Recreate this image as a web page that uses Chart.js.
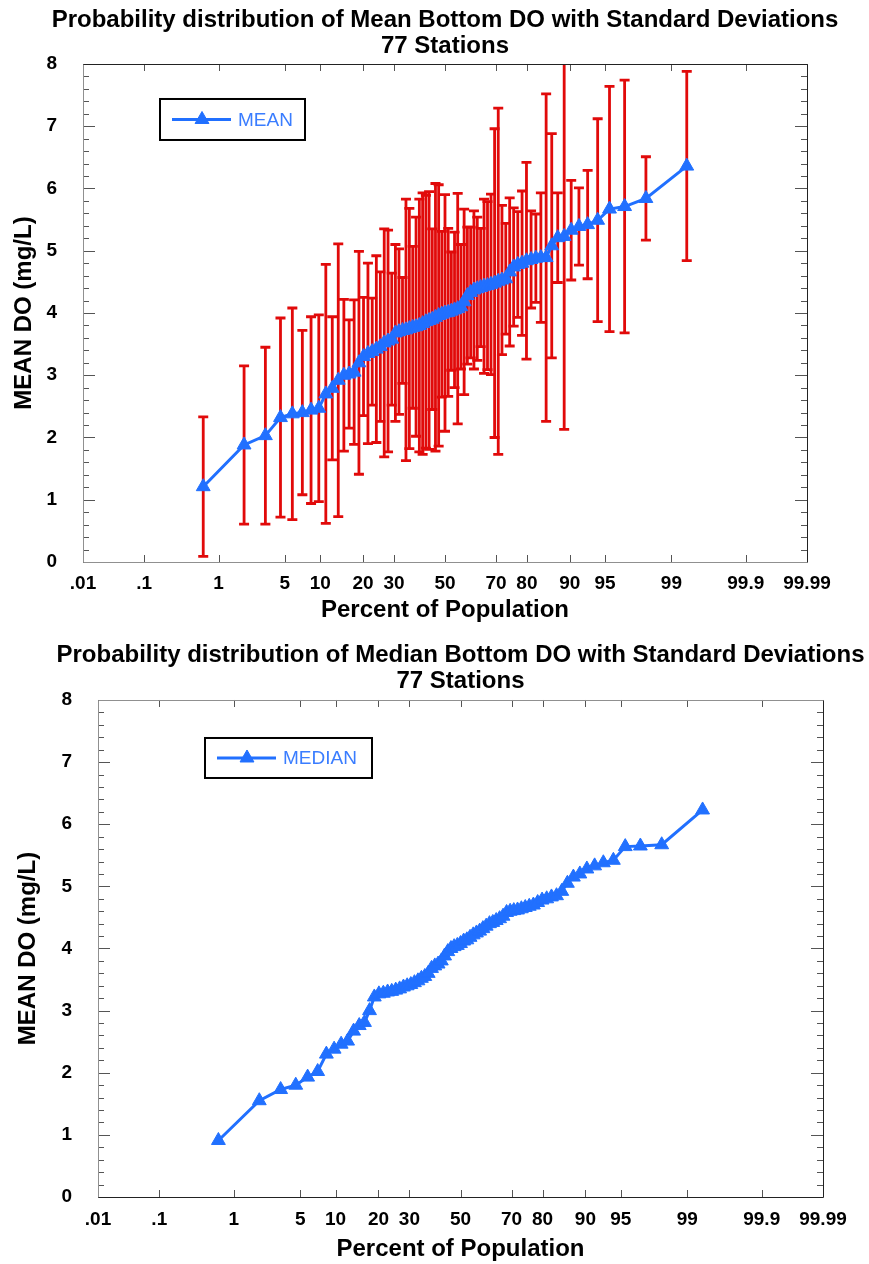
<!DOCTYPE html>
<html>
<head>
<meta charset="utf-8">
<title>Probability distribution of Bottom DO - 77 Stations</title>
<script src="https://cdn.jsdelivr.net/npm/chart.js@4.4.1/dist/chart.umd.min.js"></script>
<style>
  html, body { margin: 0; padding: 0; background: #fff; }
  canvas { position: absolute; left: 0; }
</style>
</head>
<body>
<canvas id="meanChart" width="869" height="628" style="top:0"></canvas>
<canvas id="medianChart" width="869" height="634" style="top:630px"></canvas>
<script>
// plotting position of each of the 77 stations (percent of population)
var percentOfPopulation = [
  0.65, 1.95, 3.25, 4.55, 5.84, 7.14, 8.44, 9.74, 11.04, 12.34,
  13.64, 14.94, 16.23, 17.53, 18.83, 20.13, 21.43, 22.73, 24.03, 25.32,
  26.62, 27.92, 29.22, 30.52, 31.82, 33.12, 34.42, 35.71, 37.01, 38.31,
  39.61, 40.91, 42.21, 43.51, 44.81, 46.10, 47.40, 48.70, 50.00, 51.30,
  52.60, 53.90, 55.19, 56.49, 57.79, 59.09, 60.39, 61.69, 62.99, 64.29,
  65.58, 66.88, 68.18, 69.48, 70.78, 72.08, 73.38, 74.68, 75.97, 77.27,
  78.57, 79.87, 81.17, 82.47, 83.77, 85.06, 86.36, 87.66, 88.96, 90.26,
  91.56, 92.86, 94.16, 95.45, 96.75, 98.05, 99.35
];

// sorted station means (mg/L)
var meanDO = [
  1.21, 1.88, 2.03, 2.32, 2.38, 2.40, 2.44, 2.47, 2.70, 2.79,
  2.92, 3.00, 3.02, 3.05, 3.20, 3.30, 3.35, 3.38, 3.42, 3.46,
  3.52, 3.55, 3.58, 3.68, 3.70, 3.72, 3.73, 3.75, 3.77, 3.78,
  3.80, 3.83, 3.86, 3.88, 3.90, 3.93, 3.96, 3.98, 4.00, 4.01,
  4.03, 4.05, 4.07, 4.10, 4.18, 4.28, 4.33, 4.37, 4.39, 4.41,
  4.43, 4.44, 4.46, 4.48, 4.51, 4.53, 4.55, 4.66, 4.74, 4.78,
  4.80, 4.84, 4.86, 4.88, 4.89, 4.89, 5.08, 5.21, 5.23, 5.33,
  5.39, 5.42, 5.49, 5.67, 5.71, 5.84, 6.36
];

// standard deviation for each mean
var stdDevDO = [
  1.12, 1.27, 1.42, 1.60, 1.70, 1.32, 1.50, 1.50, 2.08, 1.15,
  2.19, 1.22, 0.87, 1.16, 1.79, 0.95, 1.45, 0.86, 1.50, 1.20,
  1.83, 1.78, 1.06, 1.42, 1.33, 0.85, 2.10, 1.93, 1.30, 1.76,
  2.03, 2.10, 2.03, 2.07, 1.45, 2.15, 2.10, 1.33, 1.90, 1.35,
  0.95, 1.25, 1.85, 1.00, 1.49, 1.10, 1.05, 1.27, 1.15, 0.95,
  1.40, 1.35, 1.45, 2.48, 2.78, 1.20, 0.89, 1.19, 0.95, 0.85,
  1.16, 1.58, 0.78, 0.71, 1.04, 2.63, 1.80, 0.72, 3.10, 0.80,
  0.62, 0.87, 1.63, 1.97, 2.03, 0.67, 1.52
];

// sorted station medians (mg/L)
var medianDO = [
  0.91, 1.55, 1.73, 1.80, 1.93, 2.02, 2.30, 2.38, 2.46, 2.51,
  2.67, 2.76, 2.81, 3.00, 3.22, 3.27, 3.28, 3.30, 3.31, 3.33,
  3.35, 3.38, 3.40, 3.42, 3.45, 3.48, 3.52, 3.55, 3.60, 3.68,
  3.72, 3.75, 3.80, 3.88, 3.95, 4.00, 4.03, 4.05, 4.08, 4.12,
  4.14, 4.18, 4.22, 4.25, 4.28, 4.32, 4.36, 4.40, 4.42, 4.45,
  4.48, 4.52, 4.58, 4.60, 4.61, 4.62, 4.64, 4.66, 4.68, 4.70,
  4.74, 4.78, 4.80, 4.83, 4.85, 4.92, 5.05, 5.15, 5.20, 5.28,
  5.33, 5.38, 5.42, 5.64, 5.65, 5.67, 6.23
];

var xTickValues = [0.01, 0.1, 1, 5, 10, 20, 30, 50, 70, 80, 90, 95, 99, 99.9, 99.99];
var xTickLabels = ['.01', '.1', '1', '5', '10', '20', '30', '50', '70', '80', '90', '95', '99', '99.9', '99.99'];

var BLUE = '#2170ff';
var RED = '#e10a0a';
var FONT = "'Liberation Sans', Arial, sans-serif";

Chart.defaults.font.family = FONT;
Chart.defaults.color = '#000';

// inverse normal CDF (Acklam), used by the probability axis
function probit(p) {
  var a = [-3.969683028665376e+01, 2.209460984245205e+02, -2.759285104469687e+02, 1.383577518672690e+02, -3.066479806614716e+01, 2.506628277459239e+00];
  var b = [-5.447609879822406e+01, 1.615858368580409e+02, -1.556989798598866e+02, 6.680131188771972e+01, -1.328068155288572e+01];
  var c = [-7.784894002430293e-03, -3.223964580411365e-01, -2.400758277161838e+00, -2.549671464308169e+00, 4.374664141464968e+00, 2.938163982698783e+00];
  var d = [7.784695709041462e-03, 3.224671290700398e-01, 2.445134137142996e+00, 3.754408661907416e+00];
  var plow = 0.02425, q, r;
  if (p < plow) {
    q = Math.sqrt(-2 * Math.log(p));
    return (((((c[0]*q+c[1])*q+c[2])*q+c[3])*q+c[4])*q+c[5]) / ((((d[0]*q+d[1])*q+d[2])*q+d[3])*q+1);
  }
  if (p > 1 - plow) {
    q = Math.sqrt(-2 * Math.log(1 - p));
    return -(((((c[0]*q+c[1])*q+c[2])*q+c[3])*q+c[4])*q+c[5]) / ((((d[0]*q+d[1])*q+d[2])*q+d[3])*q+1);
  }
  q = p - 0.5; r = q * q;
  return (((((a[0]*r+a[1])*r+a[2])*r+a[3])*r+a[4])*r+a[5])*q / (((((b[0]*r+b[1])*r+b[2])*r+b[3])*r+b[4])*r+1);
}

// normal probability axis, values in percent
class ProbabilityScale extends Chart.LinearScale {
  determineDataLimits() {
    this.min = xTickValues[0];
    this.max = xTickValues[xTickValues.length - 1];
  }
  buildTicks() {
    return xTickValues.map(function (v) { return { value: v }; });
  }
  configure() {
    super.configure();
    this._zMin = probit(this.min / 100);
    this._zMax = probit(this.max / 100);
  }
  getPixelForValue(value) {
    return this.getPixelForDecimal((probit(value / 100) - this._zMin) / (this._zMax - this._zMin));
  }
}
ProbabilityScale.id = 'probability';
Chart.register(ProbabilityScale);

// red +/- 1 SD bars, drawn under the line
var errorBars = {
  id: 'errorBars',
  beforeDatasetsDraw: function (chart, args, opts) {
    if (!opts.sd) return;
    var ctx = chart.ctx, area = chart.chartArea, x = chart.scales.x, y = chart.scales.y;
    ctx.save();
    ctx.beginPath();
    ctx.rect(area.left, area.top, area.width, area.height);
    ctx.clip();
    ctx.strokeStyle = opts.color;
    ctx.lineWidth = opts.width;
    percentOfPopulation.forEach(function (p, i) {
      var px = x.getPixelForValue(p);
      var hi = y.getPixelForValue(opts.center[i] + opts.sd[i]);
      var lo = y.getPixelForValue(opts.center[i] - opts.sd[i]);
      ctx.beginPath();
      ctx.moveTo(px, hi); ctx.lineTo(px, lo);
      ctx.moveTo(px - opts.cap, hi); ctx.lineTo(px + opts.cap, hi);
      ctx.moveTo(px - opts.cap, lo); ctx.lineTo(px + opts.cap, lo);
      ctx.stroke();
    });
    ctx.restore();
  }
};

// frame, inward tick marks and the boxed legend
var probFrame = {
  id: 'probFrame',
  afterDatasetsDraw: function (chart, args, opts) {
    var ctx = chart.ctx, a = chart.chartArea, x = chart.scales.x, y = chart.scales.y;
    ctx.save();
    ctx.lineWidth = 1;
    ctx.strokeStyle = '#555';
    ctx.beginPath();
    for (var k = 0; k <= 40; k++) {
      var py = Math.round(y.getPixelForValue(k / 5)) + 0.5;
      var len = k % 5 === 0 ? 12 : 6;
      ctx.moveTo(a.left, py); ctx.lineTo(a.left + len, py);
      ctx.moveTo(a.right, py); ctx.lineTo(a.right - len, py);
    }
    x.ticks.forEach(function (t) {
      var px = Math.round(x.getPixelForValue(t.value)) + 0.5;
      ctx.moveTo(px, a.bottom); ctx.lineTo(px, a.bottom - 7);
      ctx.moveTo(px, a.top); ctx.lineTo(px, a.top + 7);
    });
    ctx.stroke();

    var L = Math.round(a.left) + 0.5, R = Math.round(a.right) + 0.5;
    var T = Math.round(a.top) + 0.5, B = Math.round(a.bottom) + 0.5;
    var sides = [[L, T, L, B, opts.left], [L, B, R, B, opts.bottom], [R, T, R, B, opts.right], [L, T, R, T, opts.top]];
    sides.forEach(function (s) {
      ctx.strokeStyle = s[4];
      ctx.beginPath(); ctx.moveTo(s[0], s[1]); ctx.lineTo(s[2], s[3]); ctx.stroke();
    });

    var lg = opts.legend;
    var ds = chart.data.datasets[0];
    var bx = a.left + lg.x, by = a.top + lg.y, cy = by + lg.h / 2;
    ctx.fillStyle = '#fff';
    ctx.fillRect(bx, by, lg.w, lg.h);
    ctx.lineWidth = 2;
    ctx.strokeStyle = '#000';
    ctx.strokeRect(bx, by, lg.w, lg.h);
    ctx.lineWidth = 3;
    ctx.strokeStyle = ds.borderColor;
    ctx.beginPath(); ctx.moveTo(bx + 12, cy); ctx.lineTo(bx + 71, cy); ctx.stroke();
    ctx.fillStyle = ds.backgroundColor;
    ctx.lineWidth = 1;
    Chart.helpers.drawPoint(ctx, { pointStyle: 'triangle', radius: 8, borderWidth: 1, rotation: 0 }, bx + 42, cy);
    ctx.font = '19px ' + FONT;
    ctx.fillStyle = '#3a7dff';
    ctx.textBaseline = 'middle';
    ctx.textAlign = 'left';
    ctx.fillText(ds.label, bx + 78, cy + 1);
    ctx.restore();
  }
};

// centre the title over the plot area without squeezing it to the plot width
var titleCentre = {
  id: 'titleCentre',
  afterLayout: function (chart) {
    var t = chart.titleBlock, c = (chart.chartArea.left + chart.chartArea.right) / 2;
    t.left = c - 430; t.right = c + 430; t.width = 860;
  }
};

function buildOptions(cfg) {
  return {
    responsive: false,
    animation: false,
    events: [],
    layout: { padding: { right: cfg.padRight } },
    scales: {
      x: {
        type: 'probability',
        position: 'bottom',
        grid: { display: false },
        border: { display: false },
        ticks: {
          autoSkip: false, maxRotation: 0, padding: cfg.xTickPad,
          font: { size: 19, weight: 'bold' },
          callback: function (v, i) { return xTickLabels[i]; }
        },
        title: {
          display: true, text: 'Percent of Population',
          font: { size: 24, weight: 'bold', lineHeight: 1.2 },
          padding: { top: 0, bottom: cfg.xTitlePad }
        },
        afterFit: function (s) { s.height = cfg.xHeight; }
      },
      y: {
        min: 0, max: 8,
        grid: { display: false },
        border: { display: false },
        ticks: { stepSize: 1, padding: 18, font: { size: 19, weight: 'bold' } },
        title: {
          display: true, text: 'MEAN DO (mg/L)',
          font: { size: 24, weight: 'bold', lineHeight: 1.2 },
          padding: { top: cfg.yTitlePad, bottom: 0 }
        },
        afterFit: function (s) { s.width = cfg.yWidth; }
      }
    },
    plugins: {
      legend: { display: false },
      tooltip: { enabled: false },
      title: {
        display: true, fullSize: false,
        text: cfg.title,
        font: { size: 24, weight: 'bold', lineHeight: 1.104 },
        padding: { top: cfg.titleTop, bottom: cfg.titleBottom }
      },
      errorBars: cfg.errorBars || {},
      probFrame: cfg.frame
    }
  };
}

var meanChart = new Chart(document.getElementById('meanChart'), {
  type: 'scatter',
  data: {
    datasets: [{
      label: 'MEAN',
      data: percentOfPopulation.map(function (p, i) { return { x: p, y: meanDO[i] }; }),
      showLine: true,
      borderColor: BLUE, backgroundColor: BLUE,
      borderWidth: 3,
      pointStyle: 'triangle', pointRadius: 8, pointBorderWidth: 1
    }]
  },
  options: buildOptions({
    title: ['Probability distribution of Mean Bottom DO with Standard Deviations', '77 Stations'],
    titleTop: 7, titleBottom: 4,
    padRight: 62, yWidth: 83, yTitlePad: 10, xHeight: 66, xTitlePad: 3, xTickPad: 2,
    errorBars: { center: meanDO, sd: stdDevDO, color: RED, width: 2.8, cap: 5 },
    frame: {
      left: '#909090', bottom: '#909090', right: '#222', top: '#222',
      legend: { x: 77, y: 35, w: 145, h: 41 }
    }
  }),
  plugins: [errorBars, probFrame, titleCentre]
});

var medianChart = new Chart(document.getElementById('medianChart'), {
  type: 'scatter',
  data: {
    datasets: [{
      label: 'MEDIAN',
      data: percentOfPopulation.map(function (p, i) { return { x: p, y: medianDO[i] }; }),
      showLine: true,
      borderColor: BLUE, backgroundColor: BLUE,
      borderWidth: 3,
      pointStyle: 'triangle', pointRadius: 8, pointBorderWidth: 1
    }]
  },
  options: buildOptions({
    title: ['Probability distribution of Median Bottom DO with Standard Deviations', '77 Stations'],
    titleTop: 12, titleBottom: 5,
    padRight: 46, yWidth: 98, yTitlePad: 14, xHeight: 67, xTitlePad: 0, xTickPad: 3,
    frame: {
      left: '#909090', top: '#909090', right: '#222', bottom: '#222',
      legend: { x: 107, y: 38, w: 167, h: 40 }
    }
  }),
  plugins: [errorBars, probFrame, titleCentre]
});
</script>
</body>
</html>
